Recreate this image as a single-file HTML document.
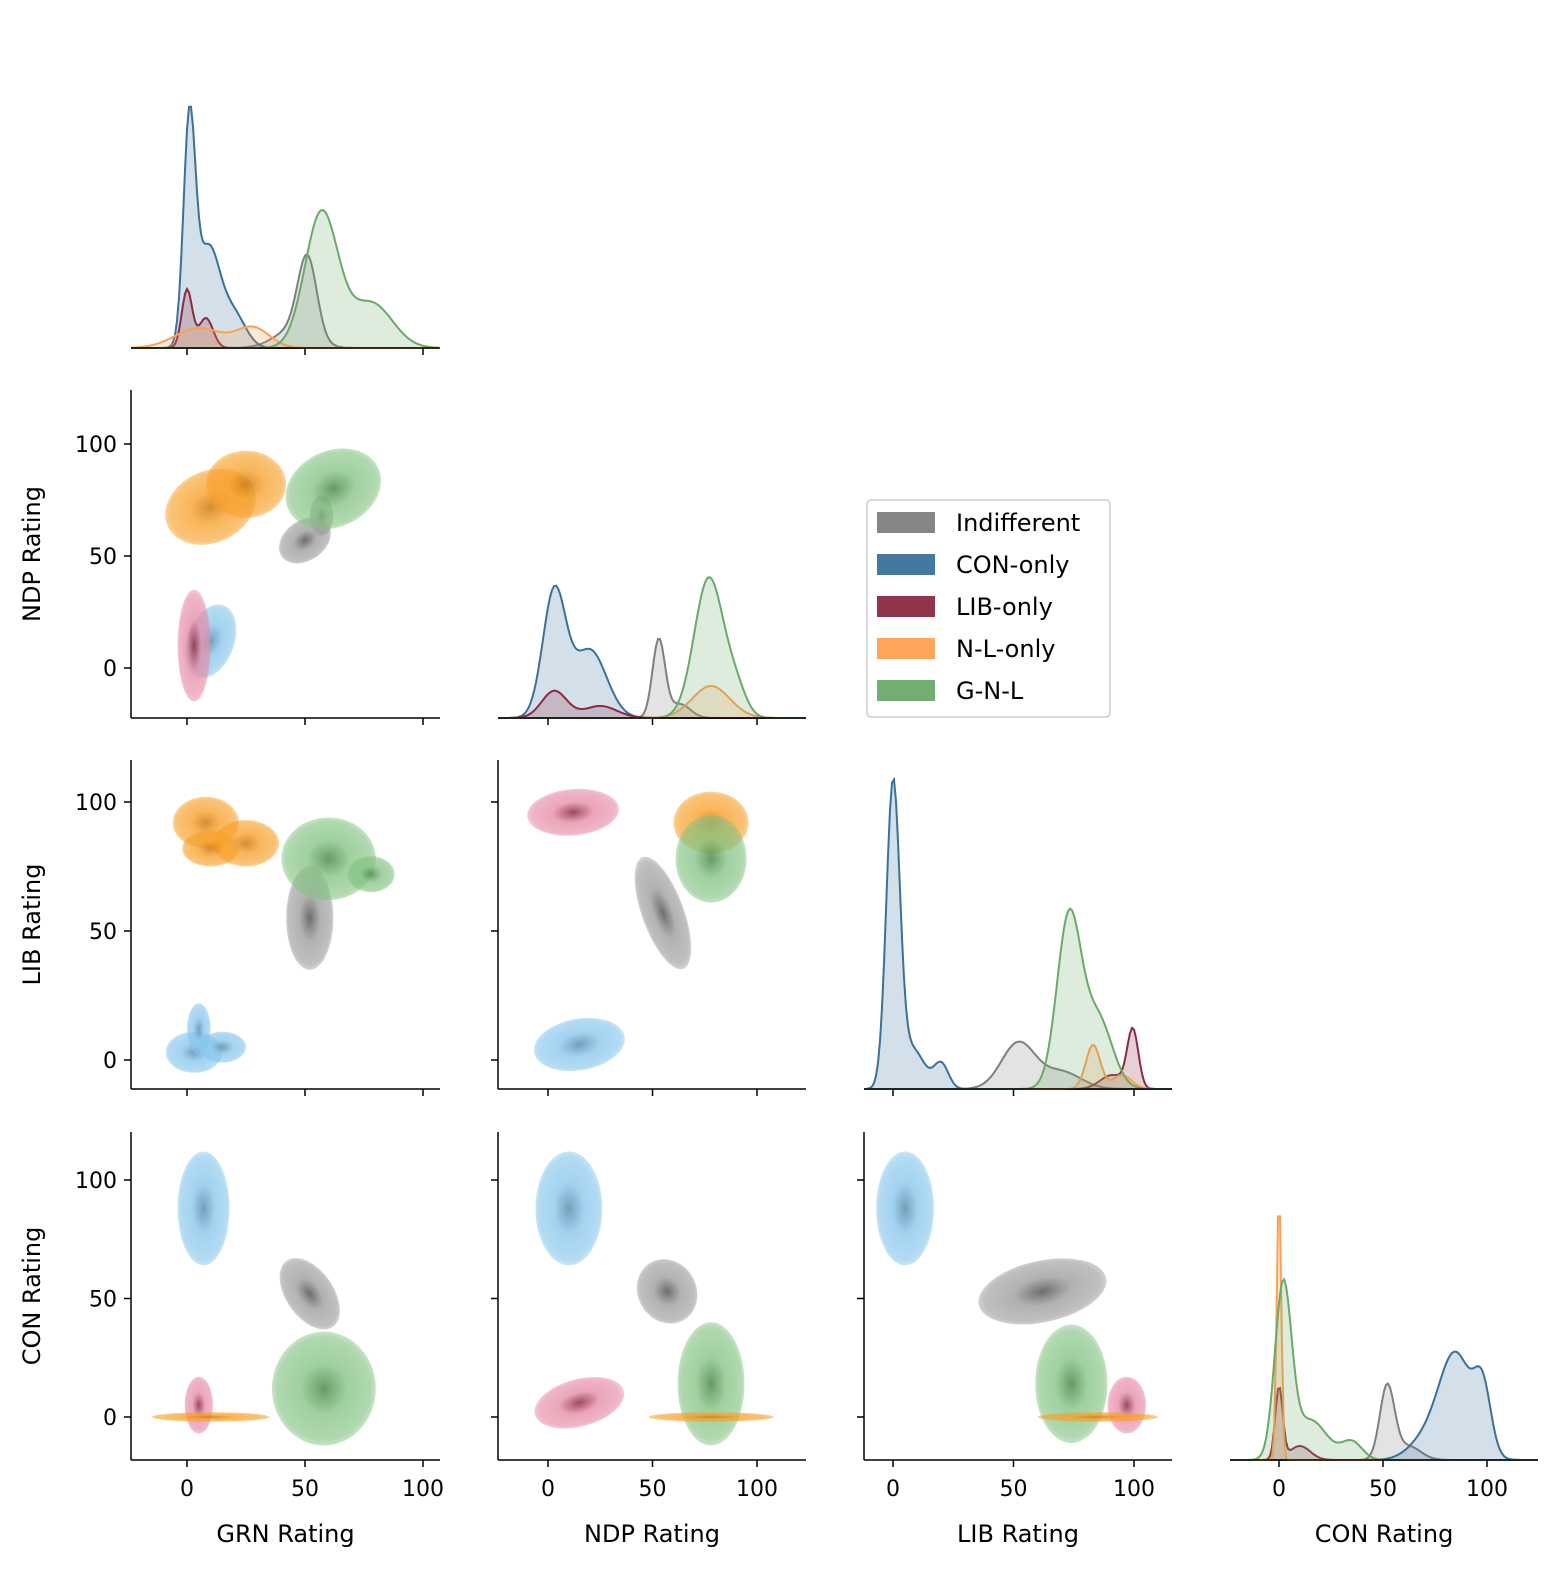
<!DOCTYPE html>
<html><head><meta charset="utf-8"><style>
body{margin:0;background:#fff}
svg text{font-family:"DejaVu Sans","Liberation Sans",sans-serif;fill:#000}
</style></head><body>
<svg id="c" width="1559" height="1569" xmlns="http://www.w3.org/2000/svg"></svg>
<script>
const groups=["Indifferent","CON-only","LIB-only","N-L-only","G-N-L"];
const lineColors=["#7f7f7f","#3a7199","#8b2a43","#ffa050","#6aa96a"];
const fillColors=["#9a9a9a","#86c5ec","#e58aa5","#f7a028","#82c282"];
const coreColors=["#555555","#5a8fb0","#8b2a43","#d07a10","#4a8a4a"];
const tickValues=[0,50,100];
const varNames=["GRN Rating","NDP Rating","LIB Rating","CON Rating"];
// diagonal KDE components per panel per group: [center, width, density]
const diag0=[[[51,4,80],[45,8,18]],[[1,2.5,215],[9,5,100],[20,5,32]],[[0,2.2,58],[8,3,30]],[[5,10,20],[28,7,20]],[[57,7,135],[78,9,45]]];
const diag1=[[[53,3,78],[63,5,14]],[[3,5.5,125],[20,8,68]],[[3,6,27],[25,8,12]],[[78,9,32]],[[77,7,140],[90,5,25]]];
const diag2=[[[52,7,46],[70,8,17]],[[0,2.8,300],[8,5,40],[20,3,25]],[[99.5,2.3,58],[91,5,14]],[[83,3,44],[95,4,14]],[[73,5,170],[85,6,70]]];
const diag3=[[[52,3.5,73],[62,6,14]],[[85,8,105],[98,4,60],[70,8,18]],[[0,1.8,72],[10,5,14]],[[0,1.1,268]],[[2,4,170],[15,8,40],[35,5,18]]];
const diags=[diag0,diag1,diag2,diag3];
// 2D blobs: [group, cx, cy, sx, sy, angleDeg] by panel "row-col"
const blobs={
"1-0":[[0,50,57,12,9,-35],[0,57,68,5,9,0],[1,10,12,10,17,20],[2,3,10,7,25,0],[3,10,72,20,16,-25],[3,25,82,17,15,0],[4,62,80,21,17,-25]],
"2-0":[[0,52,55,10,20,0],[1,3,3,12,8,0],[1,5,12,5,10,0],[1,15,5,10,6,0],[3,8,92,14,10,0],[3,25,84,14,9,0],[3,10,82,12,7,0],[4,60,78,20,16,0],[4,78,72,10,7,0]],
"2-1":[[0,55,57,10,23,-20],[1,15,6,22,10,-10],[2,12,96,22,9,-5],[3,78,92,18,12,0],[4,78,78,17,17,0]],
"3-0":[[0,52,52,10,17,-35],[1,7,88,11,24,0],[2,5,5,6,12,0],[3,10,0,25,2,0],[4,58,12,22,24,0]],
"3-1":[[0,57,53,14,14,-30],[1,10,88,16,24,0],[2,15,6,22,10,-15],[4,78,14,16,26,0],[3,78,0,30,2,0]],
"3-2":[[0,62,53,27,13,-12],[1,5,88,12,24,0],[2,97,5,8,12,0],[4,74,14,15,25,0],[3,85,0,25,2,0]]};
const colX=[[131,440,187,2.36],[498,806,548,2.09],[864,1172,893,2.41],[1230,1538,1279,2.08]];
const rowY=[[30,348,null,0],[390,718,668,2.24],[760,1089,1060,2.58],[1132,1460,1417,2.37]];
const svg=document.getElementById('c');const NS="http://www.w3.org/2000/svg";
function mk(t,a,p){const e=document.createElementNS(NS,t);for(const k in a)e.setAttribute(k,a[k]);(p||svg).appendChild(e);return e;}
const sx=(c,v)=>colX[c][2]+v*colX[c][3];
const sy=(r,v)=>rowY[r][2]-v*rowY[r][3];
const defs=mk('defs',{});
groups.forEach((g,i)=>{const rg=mk('radialGradient',{id:'g'+i},defs);
mk('stop',{offset:'0%','stop-color':coreColors[i],'stop-opacity':0.95},rg);
mk('stop',{offset:'45%','stop-color':fillColors[i],'stop-opacity':0.85},rg);
mk('stop',{offset:'90%','stop-color':fillColors[i],'stop-opacity':0.7},rg);
mk('stop',{offset:'100%','stop-color':fillColors[i],'stop-opacity':0.5},rg);});
for(let r=0;r<4;r++)for(let c=0;c<=r;c++){
 const [x0,x1]=colX[c];const [y0,y1]=rowY[r];
 const g=mk('g',{});
 if(r===c){
  const comps=diags[r];
  groups.forEach((gn,gi)=>{const pts=[];
   for(let px=x0;px<=x1;px+=2){const v=(px-colX[c][2])/colX[c][3];let dens=0;
    comps[gi].forEach(([m,s,h])=>dens+=h*Math.exp(-0.5*((v-m)/s)**2));
    pts.push([px,y1-dens]);}
   const d='M'+x0+','+y1+' '+pts.map(p=>'L'+p[0]+','+p[1].toFixed(1)).join(' ')+' L'+x1+','+y1+'Z';
   const a=mk('path',{d:d,fill:lineColors[gi],'fill-opacity':0.22,stroke:'none'},g);
   
   const l=mk('path',{d:'M'+pts.map(p=>p[0]+','+p[1].toFixed(1)).join(' L'),fill:'none',stroke:lineColors[gi],'stroke-width':2},g);
   
  });
 } else {
  blobs[r+'-'+c].forEach(([gi,cx,cy,bx,by,ang])=>{
   const X=sx(c,cx),Y=sy(r,cy);
   const e=mk('ellipse',{cx:X,cy:Y,rx:bx*colX[c][3],ry:by*rowY[r][3],fill:'url(#g'+gi+')',transform:`rotate(${ang} ${X} ${Y})`,opacity:0.9},g);
   
  });
 }
 mk('line',{x1:x0,y1:y1,x2:x1,y2:y1,stroke:'#000','stroke-width':1.5},g);
 tickValues.forEach(t=>{const X=sx(c,t);mk('line',{x1:X,y1:y1,x2:X,y2:y1+7,stroke:'#000','stroke-width':1.5},g);
  if(r===3){const tx=mk('text',{x:X,y:y1+36,'font-size':22,'text-anchor':'middle'},g);tx.textContent=t;}});
 if(r!==c){mk('line',{x1:x0,y1:y0,x2:x0,y2:y1,stroke:'#000','stroke-width':1.5},g);
  tickValues.forEach(t=>{const Y=sy(r,t);mk('line',{x1:x0-7,y1:Y,x2:x0,y2:Y,stroke:'#000','stroke-width':1.5},g);
   if(c===0){const tx=mk('text',{x:x0-14,y:Y+8,'font-size':22,'text-anchor':'end'},g);tx.textContent=t;}});}
}
varNames.forEach((n,i)=>{const t=mk('text',{x:(colX[i][0]+colX[i][1])/2,y:1542,'font-size':24,'text-anchor':'middle'});t.textContent=n;
 
 if(i>0){const yc=(rowY[i][0]+rowY[i][1])/2;const t2=mk('text',{x:40,y:yc,'font-size':24,'text-anchor':'middle',transform:`rotate(-90 40 ${yc})`});t2.textContent=varNames[i];
 }});
const lg=mk('g',{});
mk('rect',{x:867,y:500,width:243,height:217,rx:4,fill:'#fff',stroke:'#ccc','stroke-width':1.5},lg);
groups.forEach((gn,i)=>{const y=512+i*42;
 const r=mk('rect',{x:877,y:y,width:58,height:21,fill:lineColors[i],opacity:0.95},lg);
 
 const t=mk('text',{x:956,y:y+19,'font-size':24},lg);t.textContent=gn;
 });
</script>
</body></html>
